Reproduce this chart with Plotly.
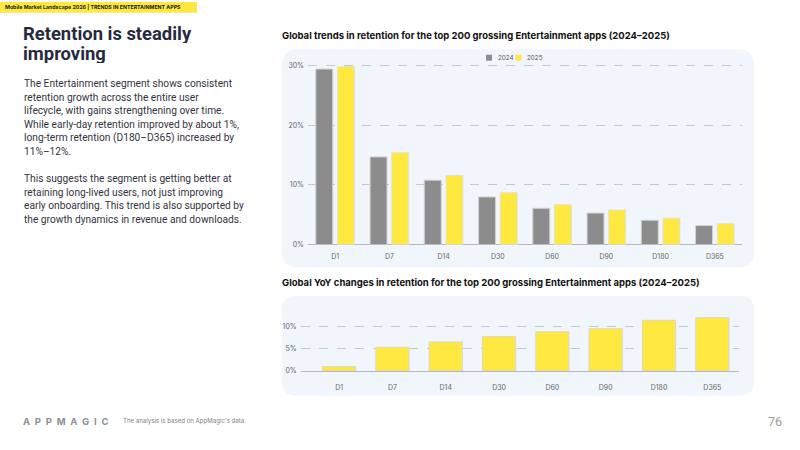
import plotly.graph_objects as go

categories = ["D1", "D7", "D14", "D30", "D60", "D90", "D180", "D365"]
ret_2024 = [29.4, 14.7, 10.8, 8.0, 6.1, 5.3, 4.1, 3.2]
ret_2025 = [29.8, 15.4, 11.6, 8.7, 6.7, 5.8, 4.45, 3.5]
yoy_change = [1.0, 5.4, 6.6, 7.8, 8.9, 9.6, 11.5, 12.1]
series_names = ["2024", "2025"]
y1_ticks = [0, 10, 20, 30]
y1_ticklabels = ["0%", "10%", "20%", "30%"]
y2_ticks = [0, 5, 10]
y2_ticklabels = ["0%", "5%", "10%"]

W, H = 800, 450
GRAY = "#8c8c8c"
YEL = "#ffe840"
PANEL = "#f1f6fd"
DARK = "#262a3e"
FONT = "Inter"
BODY = "Roboto"


def px(x):
    return x / W


def py(y):
    return 1 - y / H


fig = go.Figure()
fig.add_trace(go.Bar(x=categories, y=ret_2024, name=series_names[0], showlegend=False,
                     marker=dict(color=GRAY, line=dict(color="#d2d2d2", width=1)), xaxis="x", yaxis="y"))
fig.add_trace(go.Bar(x=categories, y=ret_2025, name=series_names[1], showlegend=False,
                     marker=dict(color=YEL, line=dict(color="#e2e2d8", width=1)), xaxis="x", yaxis="y"))
fig.add_trace(go.Bar(x=categories, y=yoy_change, name="YoY", showlegend=False,
                     marker=dict(color=YEL, line=dict(color="#d8d8d0", width=1)), xaxis="x2", yaxis="y2"))


def rounded_rect(x0, y0, x1, y1, r):
    X0, X1 = px(x0), px(x1)
    Y0, Y1 = py(y1), py(y0)
    rx, ry = r / W, r / H
    return (f"M {X0+rx},{Y0} L {X1-rx},{Y0} Q {X1},{Y0} {X1},{Y0+ry} L {X1},{Y1-ry} Q {X1},{Y1} {X1-rx},{Y1} "
            f"L {X0+rx},{Y1} Q {X0},{Y1} {X0},{Y1-ry} L {X0},{Y0+ry} Q {X0},{Y0} {X0+rx},{Y0} Z")


shapes = [
    dict(type="path", xref="paper", yref="paper", path=rounded_rect(282, 48, 754, 269, 16),
         fillcolor=PANEL, line=dict(width=0), layer="below"),
    dict(type="path", xref="paper", yref="paper", path=rounded_rect(282, 298, 754, 399, 14),
         fillcolor=PANEL, line=dict(width=0), layer="below"),
    dict(type="rect", xref="paper", yref="paper", x0=0, x1=px(197), y0=py(11), y1=1,
         fillcolor="#ffe940", line=dict(width=0), layer="below"),
    # custom legend swatches
    dict(type="rect", xref="paper", yref="paper", x0=px(486), x1=px(492), y0=py(59.5), y1=py(53.5),
         fillcolor=GRAY, line=dict(width=0)),
    dict(type="rect", xref="paper", yref="paper", x0=px(515.5), x1=px(521.5), y0=py(59.5), y1=py(53.5),
         fillcolor=YEL, line=dict(width=0)),
]

para_lines = [
    "The Entertainment segment shows consistent",
    "retention growth across the entire user",
    "lifecycle, with gains strengthening over time.",
    "While early-day retention improved by about 1%,",
    "long-term retention (D180–D365) increased by",
    "11%–12%.",
    "",
    "This suggests the segment is getting better at",
    "retaining long-lived users, not just improving",
    "early onboarding. This trend is also supported by",
    "the growth dynamics in revenue and downloads.",
]

annotations = [
    dict(text="<b>Mobile Market Landscape 2026 | TRENDS IN ENTERTAINMENT APPS</b>", x=px(3), y=py(5.5),
         xanchor="left", yanchor="middle", font=dict(size=5.25, color="#1a1a1a", family=FONT)),
    dict(text="<b>Retention is steadily</b>", x=px(21), y=py(32), xanchor="left", yanchor="middle",
         height=19, font=dict(size=18.4, color=DARK, family=BODY)),
    dict(text="<b>improving</b>", x=px(21), y=py(52), xanchor="left", yanchor="middle",
         height=19, font=dict(size=18.4, color=DARK, family=BODY)),
    dict(text="<b>Global trends in retention for the top 200 grossing Entertainment apps (2024–2025)</b>",
         x=px(280), y=py(34), xanchor="left", yanchor="middle", font=dict(size=9.5, color="#111", family=FONT)),
    dict(text="<b>Global YoY changes in retention for the top 200 grossing Entertainment apps (2024–2025)</b>",
         x=px(280), y=py(285), xanchor="left", yanchor="middle", font=dict(size=9.5, color="#111", family=FONT)),
    dict(text="<b>" + "\u2002".join("APPMAGIC") + "</b>", x=px(21), y=py(425), xanchor="left", yanchor="middle",
         font=dict(size=9.5, color="#8d9099", family=FONT)),
    dict(text="The analysis is based on AppMagic's data.", x=px(121), y=py(425), xanchor="left", yanchor="middle",
         font=dict(size=6.1, color="#7d808a", family=FONT)),
    dict(text="76", x=px(784), y=py(425), xanchor="right", yanchor="middle",
         font=dict(size=12.5, color="#9a9ca3", family=BODY)),
    dict(text=series_names[0], x=px(495.5), y=py(56.5), xanchor="left", yanchor="middle",
         font=dict(size=6.3, color="#555", family=FONT)),
    dict(text=series_names[1], x=px(525), y=py(56.5), xanchor="left", yanchor="middle",
         font=dict(size=6.3, color="#555", family=FONT)),
]
for i, line in enumerate(para_lines):
    if line:
        annotations.append(dict(text=line, x=px(21.5), y=py(83 + 13.7 * i), xanchor="left", yanchor="middle",
                                font=dict(size=10.2, color="#333340", family=BODY)))
for a in annotations:
    a.setdefault("xref", "paper")
    a.setdefault("yref", "paper")
    a["showarrow"] = False

tickfont = dict(size=7, color="#666", family=FONT)

fig.update_layout(
    width=W, height=H, margin=dict(l=0, r=0, t=0, b=0),
    paper_bgcolor="white", plot_bgcolor="rgba(0,0,0,0)",
    barmode="group", bargap=0.2, bargroupgap=0.22,
    font=dict(family=FONT), showlegend=False,
    shapes=shapes, annotations=annotations,
    xaxis=dict(domain=[px(308), px(742)], anchor="y", tickfont=tickfont, showgrid=False,
               ticks="", showline=False, fixedrange=True, ticklabelstandoff=6),
    yaxis=dict(domain=[py(246), py(61.3)], anchor="x", range=[0, 30.5], tickvals=y1_ticks,
               ticktext=y1_ticklabels, tickfont=tickfont, showgrid=True, gridcolor="#c6c8cc",
               griddash="dash", gridwidth=1, zeroline=True, zerolinecolor="#b5b7bb", zerolinewidth=1.2,
               ticks="", showline=False, ticklabelstandoff=3),
    xaxis2=dict(domain=[px(300.7), px(739)], anchor="y2", range=[-0.72, 7.5], tickfont=tickfont,
                showgrid=False, ticks="", showline=False, ticklabelstandoff=11),
    yaxis2=dict(domain=[py(374), py(315.9)], anchor="x2", range=[0, 13], tickvals=y2_ticks,
                ticktext=y2_ticklabels, tickfont=tickfont, showgrid=True, gridcolor="#c6c8cc",
                griddash="dash", gridwidth=1, zeroline=True, zerolinecolor="#b5b7bb", zerolinewidth=1.2,
                ticks="", showline=False, ticklabelstandoff=3),
)

fig.write_html("out.html")
